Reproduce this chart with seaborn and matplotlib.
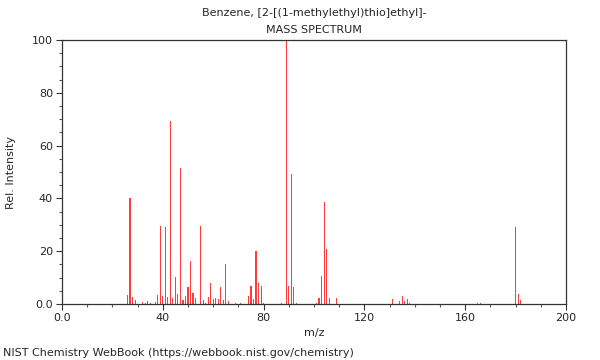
import matplotlib
matplotlib.use("Agg")
import matplotlib.pyplot as plt
from matplotlib.ticker import MultipleLocator, FuncFormatter
import seaborn as sns
import pandas as pd

mz = [26, 27, 28, 29, 32, 33, 34, 35, 37, 38, 39, 40, 41, 42, 43, 44, 45, 46, 47, 48,
      49, 50, 51, 52, 53, 55, 56, 57, 58, 59, 60, 61, 62, 63, 64, 65, 66, 69, 71, 74,
      75, 76, 77, 78, 79, 80, 87, 89, 90, 91, 92, 93, 101, 102, 103, 104, 105, 106, 109,
      131, 134, 135, 136, 137, 138, 165, 166, 180, 181, 182]
intensity = [3.4, 40, 2.6, 1.5, 0.8, 0.5, 1.1, 0.5, 0.8, 3.4, 29.6, 3.0, 29.0, 2.8, 69.3, 2.4, 10.2, 3.8, 51.5, 1.5,
             3.0, 6.4, 16.3, 4.0, 2.3, 29.5, 1.5, 0.5, 2.6, 8.0, 2.0, 2.4, 1.9, 6.3, 1.6, 15.0, 1.1, 0.5, 0.3, 3.0,
             7.0, 2.0, 20.2, 8.0, 6.7, 0.3, 0.3, 100, 6.7, 49.2, 6.3, 0.5, 0.5, 2.1, 10.6, 38.5, 20.8, 2.1, 2.4,
             1.9, 1.0, 3.0, 1.0, 2.0, 0.5, 0.5, 0.5, 29.0, 3.9, 1.6]

title_lines = ["Benzene, [2-[(1-methylethyl)thio]ethyl]-", "MASS SPECTRUM"]
x_label = "m/z"
y_label = "Rel. Intensity"
footer = "NIST Chemistry WebBook (https://webbook.nist.gov/chemistry)"

df = pd.DataFrame({"mz": mz, "intensity": intensity})

sns.set_style("white")
plt.rcParams["font.family"] = ["DejaVu Sans"]
plt.rcParams["font.size"] = 8

fig = plt.figure(figsize=(6, 3.6), dpi=100)
ax = fig.add_axes([62/600, 1 - 304/360, 504/600, 264/360])

sns.barplot(data=df, x="mz", y="intensity", native_scale=True, orient="x",
            width=0.45, color="#ff3b3b", saturation=1, linewidth=0, ax=ax)

ax.set_xlim(0, 200)
ax.set_ylim(0, 100)
ax.xaxis.set_major_locator(MultipleLocator(40))
ax.xaxis.set_minor_locator(MultipleLocator(10))
ax.yaxis.set_major_locator(MultipleLocator(20))
ax.yaxis.set_minor_locator(MultipleLocator(5))
fmt = FuncFormatter(lambda v, p: "0.0" if abs(v) < 1e-9 else f"{v:g}")
ax.xaxis.set_major_formatter(fmt)
ax.yaxis.set_major_formatter(fmt)
ax.tick_params(axis="both", which="major", direction="out", length=4.5, width=0.8,
               color="#333333", labelsize=8, pad=2, bottom=True, left=True)
ax.tick_params(axis="both", which="minor", direction="out", length=2.5, width=0.8,
               color="#555555", bottom=True, left=True)
for s in ax.spines.values():
    s.set_visible(True)
    s.set_color("#333333")
    s.set_linewidth(0.9)

ax.set_xlabel("")
ax.set_ylabel("")
fig.text(314/600, 1 - 333/360, x_label, ha="center", va="center", fontsize=8)
fig.text(11/600, 1 - 172/360, y_label, ha="center", va="center", rotation=90, fontsize=8)
fig.text(314/600, 1 - 13/360, title_lines[0], ha="center", va="center", fontsize=8)
fig.text(314/600, 1 - 30/360, title_lines[1], ha="center", va="center", fontsize=8)
fig.text(3/600, 1 - 353/360, footer, ha="left", va="center", fontsize=8)

fig.savefig("out.png", dpi=100)
